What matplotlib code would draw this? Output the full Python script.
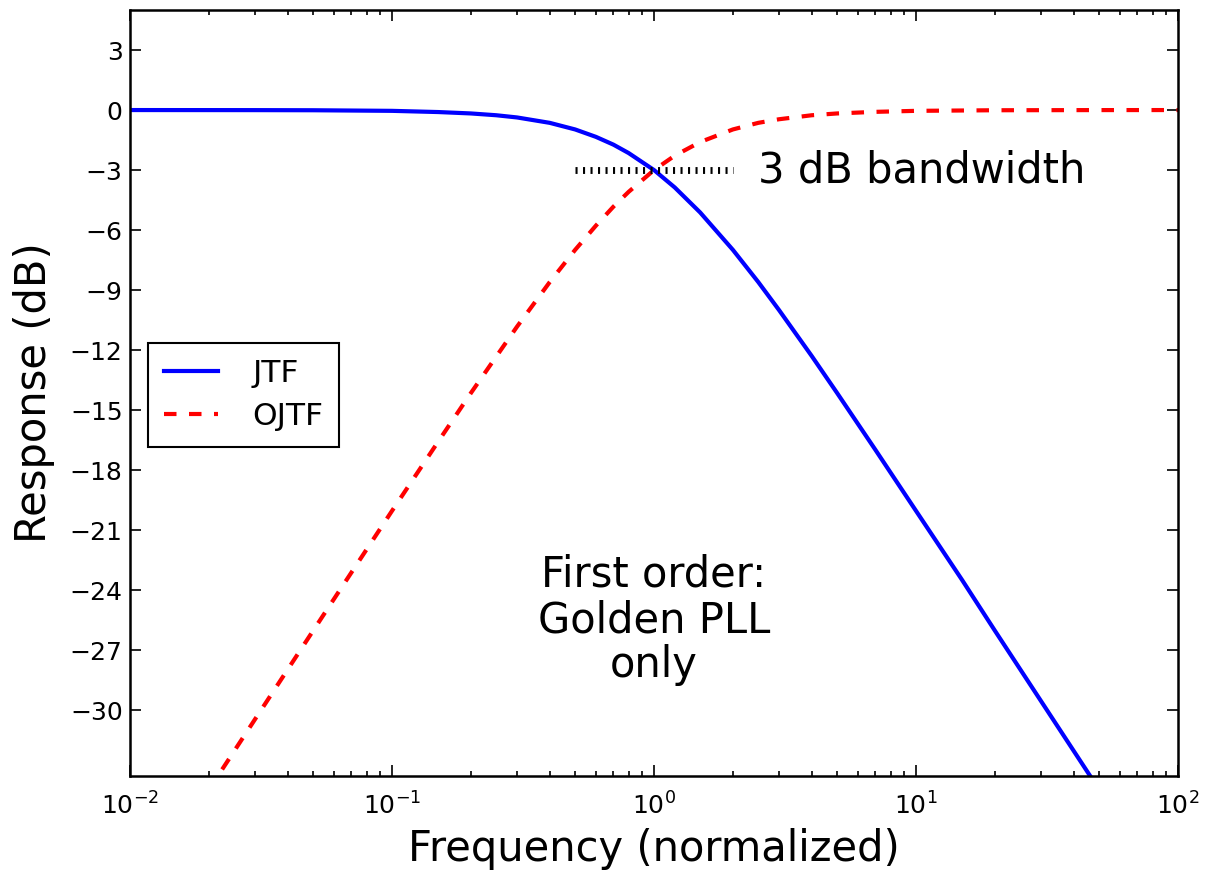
import matplotlib
matplotlib.use("Agg")
import matplotlib.pyplot as plt

plt.rcParams['lines.scale_dashes'] = False

# values (normalized frequency, dB)
jtf_freq = [0.01, 0.03, 0.05, 0.1, 0.15, 0.2, 0.25, 0.3, 0.4, 0.5, 0.6, 0.7, 0.8,
            1.0, 1.2, 1.5, 2.0, 2.5, 3.0, 4.0, 5.0, 7.0, 10.0, 15.0, 20.0, 30.0, 50.0]
jtf_db = [0.0, -0.004, -0.01, -0.04, -0.1, -0.17, -0.26, -0.37, -0.64, -0.97, -1.34,
          -1.73, -2.15, -3.0, -3.87, -5.12, -6.99, -8.6, -10.0, -12.3, -14.15, -16.99,
          -20.04, -23.5, -26.03, -29.55, -33.98]

ojtf_freq = [0.01, 0.02, 0.03, 0.05, 0.07, 0.1, 0.15, 0.2, 0.3, 0.4, 0.5, 0.6, 0.7,
             0.8, 1.0, 1.2, 1.5, 2.0, 2.5, 3.0, 4.0, 5.0, 7.0, 10.0, 20.0, 50.0, 100.0]
ojtf_db = [-40.0, -33.98, -30.46, -26.03, -23.12, -20.04, -16.58, -14.15, -10.83,
           -8.6, -6.99, -5.78, -4.83, -4.09, -3.0, -2.28, -1.6, -0.97, -0.64, -0.46,
           -0.26, -0.17, -0.09, -0.04, -0.01, -0.002, 0.0]

bw_freq = [0.5, 2.0]
bw_db = [-3, -3]

yticks = [3, 0, -3, -6, -9, -12, -15, -18, -21, -24, -27, -30]

fig = plt.figure(figsize=(1207 / 150, 873 / 150), dpi=150)
ax = fig.add_axes([0.1077, 0.111, 0.8683, 0.8775])

ax.semilogx(jtf_freq, jtf_db, color='blue', lw=2, label='JTF')
ax.semilogx(ojtf_freq, ojtf_db, color='red', lw=2, dashes=(6, 6), label='OJTF')
ax.plot(bw_freq, bw_db, color='black', lw=3.3, dashes=(1, 2.6))

ax.text(2.5, -3, '3 dB bandwidth', fontsize=20, va='center', ha='left')
ax.text(1.0, -25.5, 'First order:\nGolden PLL\nonly', fontsize=20,
        ha='center', va='center', linespacing=1.1)

ax.set_xlim(0.01, 100)
ax.set_ylim(-33.3, 5)
ax.set_yticks(yticks)
ax.set_xlabel('Frequency (normalized)', fontsize=20)
ax.set_ylabel('Response (dB)', fontsize=20, labelpad=7)

ax.tick_params(which='both', direction='in', top=True, right=True, labelsize=12)
ax.tick_params(which='major', length=5.5, width=0.8)
ax.tick_params(which='minor', length=2.4, width=0.8)
ax.tick_params(axis='x', pad=8)
for s in ax.spines.values():
    s.set_linewidth(1.2)

leg = ax.legend(loc='upper left', bbox_to_anchor=(0.0172, 0.565), borderaxespad=0,
                fontsize=15, fancybox=False, handlelength=1.75, borderpad=0.5,
                handletextpad=1.1, labelspacing=0.45)
leg.get_frame().set_edgecolor('black')
leg.get_frame().set_linewidth(1.0)
leg.get_frame().set_alpha(1)

fig.savefig('out.png', dpi=150)
